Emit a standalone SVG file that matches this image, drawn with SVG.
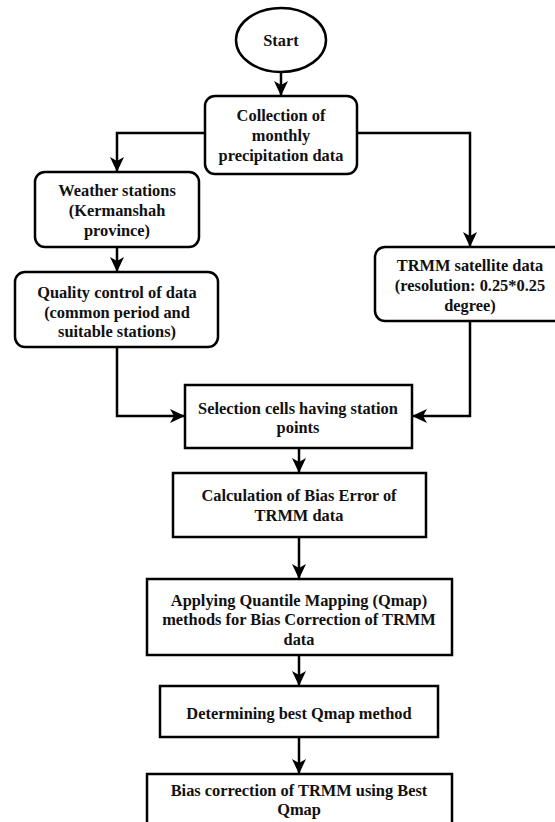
<svg xmlns="http://www.w3.org/2000/svg" width="555" height="822" viewBox="0 0 555 822">
<style>
.n{fill:#fff;stroke:#000;stroke-width:2.5}
.c{fill:none;stroke:#000;stroke-width:2.5}
text{font-family:"Liberation Serif","Times New Roman",serif;font-weight:bold;font-size:16.4px;fill:#111;text-anchor:middle}
</style>
<defs>
<marker id="ah" markerUnits="userSpaceOnUse" markerWidth="16" markerHeight="14" refX="15" refY="7" orient="auto">
<path d="M0,0 L15,7 L0,14 L4,7 z" fill="#000"/>
</marker>
</defs>
<rect width="555" height="822" fill="#fff"/>
<g id="connectors">
<path class="c" d="M281,72 V96" marker-end="url(#ah)"/>
<path class="c" d="M205,133 H117 V172" marker-end="url(#ah)"/>
<path class="c" d="M357,133 H470 V247" marker-end="url(#ah)"/>
<path class="c" d="M117,247 V272" marker-end="url(#ah)"/>
<path class="c" d="M117,347 V416 H185" marker-end="url(#ah)"/>
<path class="c" d="M470,321 V416 H412" marker-end="url(#ah)"/>
<path class="c" d="M299,448 V473" marker-end="url(#ah)"/>
<path class="c" d="M299,537 V579" marker-end="url(#ah)"/>
<path class="c" d="M299,655 V686" marker-end="url(#ah)"/>
<path class="c" d="M299,737 V774" marker-end="url(#ah)"/>
</g>
<g id="start">
<ellipse class="n" cx="281" cy="40" rx="45" ry="32"/>
<text x="281" y="45.5">Start</text>
</g>
<g id="collection">
<rect class="n" x="205" y="96" width="152" height="78" rx="10"/>
<text x="281" y="120.5">Collection of</text>
<text x="281" y="140.5">monthly</text>
<text x="281" y="160.5">precipitation data</text>
</g>
<g id="weather">
<rect class="n" x="35" y="172" width="164" height="75" rx="10"/>
<text x="117" y="195.5">Weather stations</text>
<text x="117" y="215.5">(Kermanshah</text>
<text x="117" y="235.5">province)</text>
</g>
<g id="quality">
<rect class="n" x="15" y="272" width="203" height="75" rx="10"/>
<text x="117" y="297.5">Quality control of data</text>
<text x="117" y="317.5">(common period and</text>
<text x="117" y="336.5">suitable stations)</text>
</g>
<g id="trmm">
<rect class="n" x="375" y="247" width="190" height="74" rx="10"/>
<text x="470" y="270.5">TRMM satellite data</text>
<text x="470" y="290.5">(resolution: 0.25*0.25</text>
<text x="470" y="310.5">degree)</text>
</g>
<g id="selection">
<rect class="n" x="185" y="385" width="227" height="63"/>
<text x="298" y="413.5">Selection cells having station</text>
<text x="298" y="432.5">points</text>
</g>
<g id="calculation">
<rect class="n" x="173" y="473" width="253" height="64"/>
<text x="299" y="500.5">Calculation of Bias Error of</text>
<text x="299" y="520.5">TRMM data</text>
</g>
<g id="applying">
<rect class="n" x="147" y="579" width="305" height="76"/>
<text x="299" y="605.5">Applying Quantile Mapping (Qmap)</text>
<text x="299" y="624.5">methods for Bias Correction of TRMM</text>
<text x="299" y="644.5">data</text>
</g>
<g id="determining">
<rect class="n" x="160" y="686" width="278" height="51"/>
<text x="299" y="718.5">Determining best Qmap method</text>
</g>
<g id="biascorrection">
<rect class="n" x="147" y="774" width="305" height="60"/>
<text x="299" y="795.5">Bias correction of TRMM using Best</text>
<text x="299" y="814.5">Qmap</text>
</g>
</svg>
